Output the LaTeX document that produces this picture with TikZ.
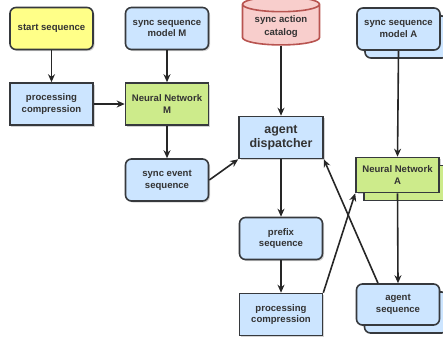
\documentclass[tikz,border=0pt]{standalone}
\usepackage{fontspec}
\newfontfamily\diagfont{Liberation Sans}
\usetikzlibrary{arrows.meta,shapes,shadows}
\definecolor{bluefill}{HTML}{CCE5FF}
\definecolor{greenfill}{HTML}{CDEB8B}
\definecolor{yellowfill}{HTML}{FFFF88}
\definecolor{redfill}{HTML}{F8CECC}
\definecolor{redline}{HTML}{B85450}
\definecolor{boxline}{HTML}{36393D}
\tikzset{
    box/.style={draw=boxline,line width=1.6bp,minimum width=83bp,minimum height=42bp,align=center,
        font=\diagfont\bfseries\fontsize{9.6}{11.8}\selectfont,text=black!80,
        drop shadow={shadow xshift=1.5bp,shadow yshift=-1.5bp,opacity=.35}},
    rbox/.style={box,rounded corners=6bp},
    stack/.style={copy shadow={shadow xshift=8bp,shadow yshift=-8bp}},
    link/.style={-{Stealth[length=8bp,width=7bp]},line width=1.6bp,black!85}
}

\begin{document}
\begin{tikzpicture}[x=1bp,y=-1bp]
    \useasboundingbox (0,0) rectangle (443,341);
    \node[rbox,fill=yellowfill] (ST) at (51.5,28.5) {start sequence};
    \node[rbox,fill=bluefill] (SM) at (167,28.5) {sync sequence\\model M};
    \node[box,fill=bluefill] (PL) at (51.5,104) {processing\\compression};
    \node[box,fill=greenfill] (NM) at (167,104) {Neural Network\\M};
    \node[rbox,fill=bluefill] (SE) at (167,180) {sync event\\sequence};
    \node[cylinder,shape border rotate=90,shape aspect=0.25,draw=redline,fill=redfill,line width=1.6bp,
        minimum width=77bp,minimum height=47bp,align=center,text=black!80,
        font=\diagfont\bfseries\fontsize{9.6}{12.5}\selectfont] (AC) at (281,26.5) {sync action\\catalog};
    \node[box,fill=bluefill,minimum width=84bp,font=\diagfont\bfseries\fontsize{12.5}{14.5}\selectfont] (AD) at (281,137.5) {agent\\dispatcher};
    \node[rbox,stack,fill=bluefill] (SA) at (398.5,29) {sync sequence\\model A};
    \node[box,stack,fill=greenfill,minimum height=35bp] (NA) at (397.5,175) {Neural Network\\A};
    \node[rbox,fill=bluefill] (PS) at (281,238.5) {prefix\\sequence};
    \node[box,fill=bluefill] (PB) at (281,314.5) {processing\\compression};
    \node[rbox,stack,fill=bluefill,minimum height=41bp] (AS) at (398,304.5) {agent\\sequence};
    \draw[link] (ST) -- (PL);
    \draw[link] (SM) -- (NM);
    \draw[link] (PL) -- (NM);
    \draw[link] (NM) -- (SE);
    \draw[link] (SE.east) -- (AD.south west);
    \draw[link] (AC) -- (AD);
    \draw[link] (AD) -- (PS);
    \draw[link] (PS) -- (PB);
    \draw[link] (PB.north east) -- (NA.south west);
    \draw[link] (SA.south) -- (NA.north);
    \draw[link] (NA.south) -- (AS.north);
    \draw[link] ([xshift=-20bp]AS.north) -- (AD.south east);
\end{tikzpicture}
\end{document}
